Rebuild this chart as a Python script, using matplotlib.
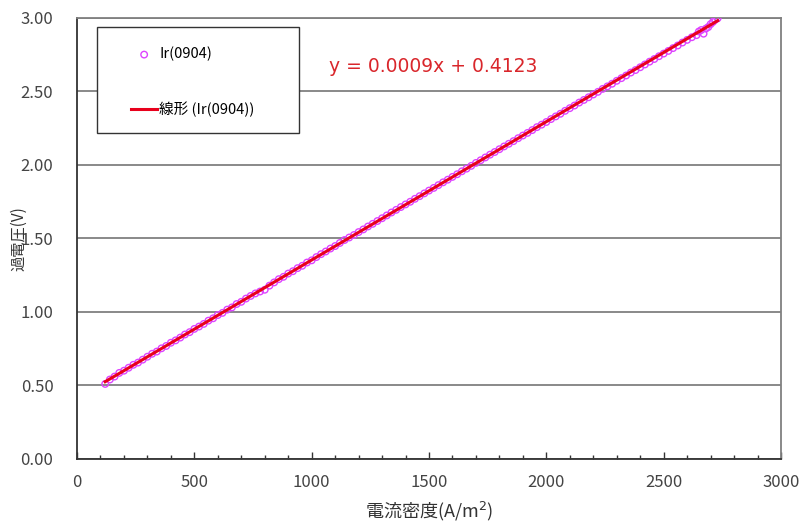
import numpy as np
import matplotlib.pyplot as plt
from matplotlib.patches import Rectangle

plt.rcParams['font.family'] = ['Noto Sans CJK JP', 'DejaVu Sans']

# 電流密度 (A/m2) と 過電圧 (V)
current = [120, 140, 160, 180, 200, 220, 240, 260, 280, 300,
           320, 340, 360, 380, 400, 420, 440, 460, 480, 500,
           520, 540, 560, 580, 600, 620, 640, 660, 680, 700,
           720, 740, 760, 780, 800, 820, 840, 860, 880, 900,
           920, 940, 960, 980, 1000, 1020, 1040, 1060, 1080, 1100,
           1120, 1140, 1160, 1180, 1200, 1220, 1240, 1260, 1280, 1300,
           1320, 1340, 1360, 1380, 1400, 1420, 1440, 1460, 1480, 1500,
           1520, 1540, 1560, 1580, 1600, 1620, 1640, 1660, 1680, 1700,
           1720, 1740, 1760, 1780, 1800, 1820, 1840, 1860, 1880, 1900,
           1920, 1940, 1960, 1980, 2000, 2020, 2040, 2060, 2080, 2100,
           2120, 2140, 2160, 2180, 2200, 2220, 2240, 2260, 2280, 2300,
           2320, 2340, 2360, 2380, 2400, 2420, 2440, 2460, 2480, 2500,
           2520, 2540, 2560, 2580, 2600, 2620, 2640, 2650, 2660, 2670,
           2680, 2690, 2700, 2710, 2720, 2730]
voltage = [0.510, 0.540, 0.560, 0.585, 0.600, 0.620, 0.640, 0.655, 0.675, 0.695,
           0.715, 0.730, 0.752, 0.768, 0.790, 0.806, 0.825, 0.846, 0.862, 0.884,
           0.900, 0.918, 0.940, 0.956, 0.978, 0.993, 1.015, 1.030, 1.053, 1.068,
           1.090, 1.108, 1.125, 1.138, 1.150, 1.178, 1.200, 1.222, 1.238, 1.260,
           1.276, 1.297, 1.313, 1.335, 1.350, 1.372, 1.392, 1.410, 1.430, 1.447,
           1.468, 1.488, 1.505, 1.522, 1.542, 1.560, 1.580, 1.598, 1.617, 1.636,
           1.655, 1.675, 1.693, 1.712, 1.730, 1.748, 1.768, 1.786, 1.805, 1.824,
           1.842, 1.861, 1.880, 1.898, 1.917, 1.935, 1.955, 1.973, 1.992, 2.012,
           2.030, 2.049, 2.068, 2.086, 2.105, 2.124, 2.142, 2.160, 2.180, 2.198,
           2.216, 2.235, 2.255, 2.272, 2.290, 2.310, 2.328, 2.346, 2.366, 2.384,
           2.402, 2.422, 2.440, 2.458, 2.477, 2.495, 2.515, 2.532, 2.550, 2.570,
           2.588, 2.606, 2.626, 2.643, 2.662, 2.681, 2.700, 2.718, 2.737, 2.755,
           2.773, 2.792, 2.810, 2.830, 2.848, 2.866, 2.880, 2.905, 2.915, 2.890,
           2.925, 2.935, 2.955, 2.970, 2.985, 2.995]

# 近似直線の係数
slope = 0.00094
intercept = 0.4123

series_name = 'Ir(0904)'
fit_name = '線形 (Ir(0904))'

x = np.array(current)
y = np.array(voltage)

fig = plt.figure(figsize=(8.04, 5.26), dpi=100)
ax = fig.add_axes([0.0958, 0.1274, 0.8756, 0.8393])

ax.scatter(x, y, s=22, facecolors='none', edgecolors='#DD44FF',
           linewidths=1.0, label=series_name, zorder=3)
xf = np.array([x.min(), x.max()])
ax.plot(xf, slope * xf + intercept, color='#E8001C', lw=2.2,
        label=fit_name, zorder=4)

ax.set_xlim(0, 3000)
ax.set_ylim(0, 3.0)
ax.set_xticks(np.arange(0, 3001, 500))
ax.set_xticks(np.arange(0, 3001, 100), minor=True)
ax.set_yticks(np.arange(0, 3.01, 0.5))
ax.set_yticklabels([f'{v:.2f}' for v in np.arange(0, 3.01, 0.5)])

ax.grid(axis='y', color='#808080', lw=1.3)
ax.set_axisbelow(True)
ax.tick_params(axis='x', which='major', direction='in', length=5,
               width=1, color='#333333', pad=11, labelsize=12, labelcolor='#444444')
ax.tick_params(axis='x', which='minor', direction='in', length=3,
               width=1, color='#333333')
ax.tick_params(axis='y', direction='in', length=0, pad=17,
               labelsize=12, labelcolor='#444444')

for side in ['left', 'bottom']:
    ax.spines[side].set_color('#333333')
    ax.spines[side].set_linewidth(1.3)
for side in ['top', 'right']:
    ax.spines[side].set_color('#808080')
    ax.spines[side].set_linewidth(1.3)

ax.set_xlabel('電流密度(A/m$^2$)', fontsize=13, color='#333333', labelpad=6)
ax.set_ylabel('過電圧(V)', fontsize=11, color='#333333', labelpad=-5)

ax.text(0.358, 0.888, f'y = {slope:.4f}x + {intercept:.4f}',
        transform=ax.transAxes, fontsize=13.5, color='#D9262B', va='center',
        family='DejaVu Sans')

# 凡例の枠
ax.add_patch(Rectangle((0.0284, 0.7384), 0.287, 0.240, transform=ax.transAxes,
                       facecolor='white', edgecolor='#333333', lw=1.0, zorder=5))
leg = ax.legend(loc='upper left', bbox_to_anchor=(0.0767, 0.9335),
                fontsize=10.5, labelspacing=2.75, borderpad=0,
                handlelength=1.8, handletextpad=0.15, frameon=False,
                borderaxespad=0)
leg.set_zorder(6)

fig.savefig('out.png', dpi=100)
